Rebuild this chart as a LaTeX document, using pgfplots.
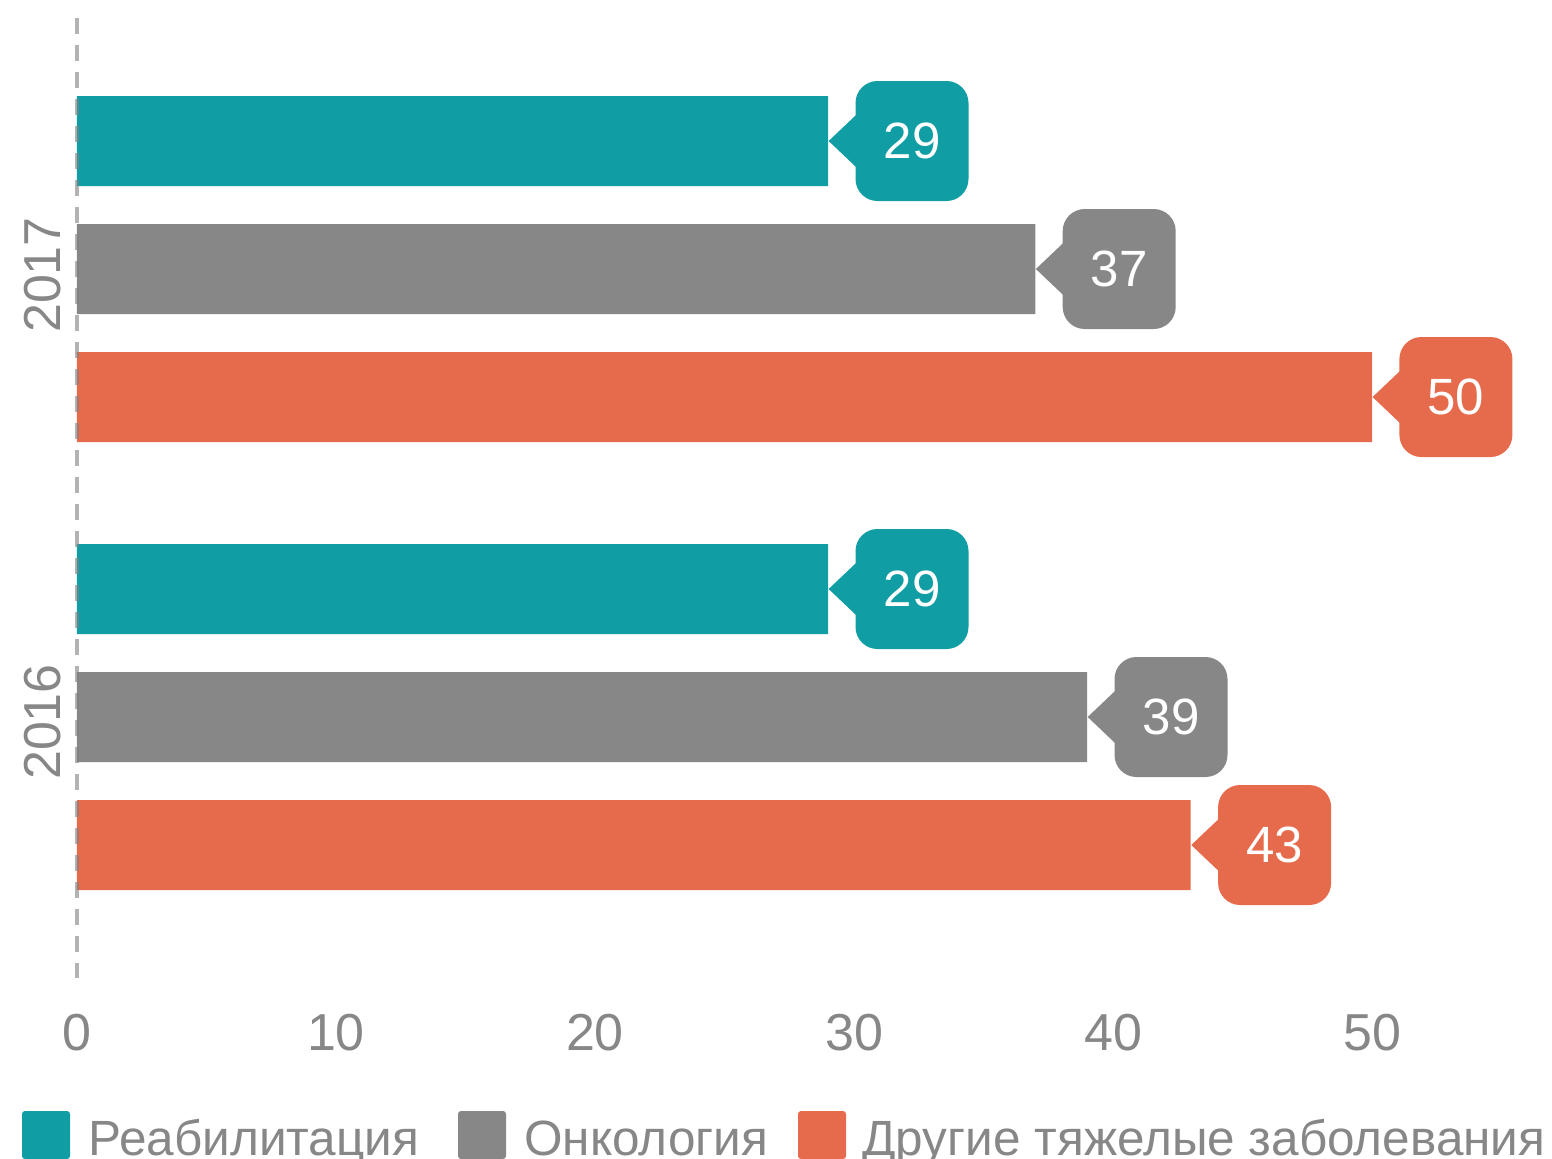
\documentclass[border=0pt]{standalone}
\usepackage{pgfplots}
\pgfplotsset{compat=1.18}
\usetikzlibrary{shapes.geometric}
\usepackage{fontspec}
\setmainfont{Liberation Sans}
\definecolor{cteal}{HTML}{109EA4}
\definecolor{cgray}{HTML}{878787}
\definecolor{corange}{HTML}{E56B4C}
\definecolor{ctext}{HTML}{878787}
\definecolor{cdash}{HTML}{808080}
\tikzset{
 callout/.style={fill=#1, text=white, rounded corners=11pt,
  minimum width=56.5pt, minimum height=60pt, inner sep=0pt, anchor=west,
  xshift=13.5pt, font=\fontsize{25.5}{26}\selectfont},
 pointer/.style={shape=diamond, fill=#1, minimum width=30pt, minimum height=28.5pt, inner sep=0pt, anchor=west}
}
\begin{document}
\begin{tikzpicture}
\useasboundingbox (0,0) rectangle (776pt,-579pt);
\begin{axis}[
 at={(38.5pt,-489pt)}, anchor=south west,
 scale only axis, width=737.5pt, height=480pt,
 xbar, bar width=45pt,
 xmin=0, xmax=56.95, ymin=-0.5826, ymax=1.5603,
 axis line style={draw=none},
 major tick length=0pt,
 xtick={0,10,...,50},
 ytick=\empty,
 tick label style={font=\fontsize{26}{26}\selectfont, text=ctext},
 /pgf/number format/assume math mode=true,
 xticklabel style={anchor=center, yshift=-27.5pt},
 nodes near coords, point meta=x, nodes near coords align={horizontal},
 clip=false,
]
% pointers (drawn first, covered by the boxes)
\addplot[draw=none, fill=none, bar shift=64pt, nodes near coords={}, every node near coord/.append style={pointer=cteal}] coordinates {(29,1) (29,0)};
\addplot[draw=none, fill=none, bar shift=0pt, nodes near coords={}, every node near coord/.append style={pointer=cgray}] coordinates {(37,1) (39,0)};
\addplot[draw=none, fill=none, bar shift=-64pt, nodes near coords={}, every node near coord/.append style={pointer=corange}] coordinates {(50,1) (43,0)};
% bars with value boxes
\addplot[fill=cteal, draw=none, bar shift=64pt, every node near coord/.append style={callout=cteal}] coordinates {(29,1) (29,0)};
\addplot[fill=cgray, draw=none, bar shift=0pt, every node near coord/.append style={callout=cgray}] coordinates {(37,1) (39,0)};
\addplot[fill=corange, draw=none, bar shift=-64pt, every node near coord/.append style={callout=corange}] coordinates {(50,1) (43,0)};
\draw[cdash, opacity=0.6, line width=2pt, dash pattern=on 8pt off 5.5pt] (rel axis cs:0,1) -- (rel axis cs:0,0);
\end{axis}
\node[rotate=90, text=ctext, font=\fontsize{26}{26}\selectfont, inner sep=0pt] at (21.5pt,-137.5pt) {2017};
\node[rotate=90, text=ctext, font=\fontsize{26}{26}\selectfont, inner sep=0pt] at (21.5pt,-361pt) {2016};
\fill[cteal, rounded corners=1.5pt] (11pt,-555.5pt) rectangle ++(24pt,-24pt);
\node[anchor=base west, inner sep=0, text=ctext, font=\fontsize{24.75}{25}\selectfont] at (44pt,-577.5pt) {Реабилитация};
\fill[cgray, rounded corners=1.5pt] (229pt,-555.5pt) rectangle ++(24pt,-24pt);
\node[anchor=base west, inner sep=0, text=ctext, font=\fontsize{24.75}{25}\selectfont] at (262pt,-577.5pt) {Онкология};
\fill[corange, rounded corners=1.5pt] (399pt,-555.5pt) rectangle ++(24pt,-24pt);
\node[anchor=base west, inner sep=0, text=ctext, font=\fontsize{24.75}{25}\selectfont] at (431pt,-577.5pt) {Другие тяжелые заболевания};
\end{tikzpicture}
\end{document}
